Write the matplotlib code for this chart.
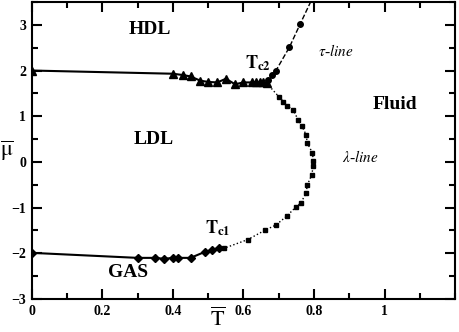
import matplotlib.pyplot as plt
from matplotlib.ticker import MultipleLocator

plt.rcParams['font.family'] = 'Liberation Serif'
plt.rcParams['mathtext.fontset'] = 'stix'

# HDL-LDL coexistence (triangles)
t_hdl = [0, 0.40, 0.43, 0.45, 0.477, 0.50, 0.526, 0.55, 0.576, 0.60, 0.623, 0.635, 0.647, 0.656, 0.666]
mu_hdl = [2.0, 1.93, 1.90, 1.87, 1.78, 1.75, 1.74, 1.82, 1.70, 1.74, 1.74, 1.75, 1.74, 1.74, 1.72]

# gas-LDL coexistence (diamonds)
t_gas = [0, 0.30, 0.35, 0.375, 0.40, 0.415, 0.45, 0.49, 0.51, 0.531]
mu_gas = [-1.99, -2.10, -2.10, -2.12, -2.10, -2.10, -2.10, -1.97, -1.93, -1.88]

# lambda line (squares)
t_lam = [0.545, 0.612, 0.662, 0.692, 0.722, 0.748, 0.762, 0.777, 0.781, 0.793,
         0.798, 0.798, 0.795, 0.781, 0.777, 0.765, 0.755, 0.741, 0.724, 0.713, 0.701]
mu_lam = [-1.89, -1.70, -1.49, -1.38, -1.19, -0.99, -0.90, -0.69, -0.50, -0.29,
          -0.08, 0.03, 0.20, 0.41, 0.60, 0.79, 0.92, 1.13, 1.23, 1.32, 1.42]

# tau line (circles)
t_tau = [0.67, 0.68, 0.692, 0.73, 0.76]
mu_tau = [1.80, 1.91, 2.00, 2.51, 3.01]
t_tau_line = [0.666, 0.67, 0.68, 0.692, 0.73, 0.76, 0.79]
mu_tau_line = [1.72, 1.80, 1.91, 2.00, 2.51, 3.01, 3.5]

fig = plt.figure(figsize=(4.59, 3.32), dpi=100)
ax = fig.add_axes([0.069, 0.0994, 0.923, 0.8946])

ax.plot(t_hdl, mu_hdl, '-', color='black', lw=1.5, marker='^', ms=6)
ax.plot(t_gas, mu_gas, '-', color='black', lw=1.5, marker='D', ms=4)
ax.plot([t_gas[-1]] + t_lam + [t_hdl[-1]], [mu_gas[-1]] + mu_lam + [mu_hdl[-1]],
        ':', color='black', lw=1)
ax.plot(t_lam, mu_lam, 's', color='black', ms=3.5)
ax.plot(t_tau_line, mu_tau_line, '--', color='black', lw=1)
ax.plot(t_tau, mu_tau, 'o', color='black', ms=4)

ax.set_xlim(0, 1.2)
ax.set_ylim(-3, 3.5)
ax.set_xticks([0, 0.2, 0.4, 0.6, 0.8, 1.0])
ax.set_xticklabels(['0', '0.2', '0.4', '0.6', '0.8', '1'])
ax.set_yticks([-3, -2, -1, 0, 1, 2, 3])
ax.xaxis.set_minor_locator(MultipleLocator(0.1))
ax.yaxis.set_minor_locator(MultipleLocator(0.5))
ax.tick_params(which='both', direction='in', top=True, right=True, width=1.5)
ax.tick_params(which='major', length=7, labelsize=10, pad=4)
ax.tick_params(which='minor', length=4)
for lab in ax.get_xticklabels() + ax.get_yticklabels():
    lab.set_fontweight('bold')
for s in ax.spines.values():
    s.set_linewidth(1.5)

ax.set_xlabel(r'$\overline{\mathrm{T}}$', fontsize=16, labelpad=0, va='center')
ax.xaxis.set_label_coords(0.44, -0.068)
ax.set_ylabel(r'$\overline{\mathrm{\mu}}$', fontsize=16, rotation=0, labelpad=0,
              va='center', ha='center')
ax.yaxis.set_label_coords(-0.058, 0.5)

bold = dict(fontsize=14, fontweight='bold', ha='center', va='center')
ax.text(0.335, 2.89, 'HDL', **bold)
ax.text(0.345, 0.49, 'LDL', **bold)
ax.text(0.272, -2.42, 'GAS', **bold)
ax.text(1.03, 1.25, 'Fluid', **bold)
ax.text(0.64, 2.17, r'$\mathbf{T_{c2}}$', fontsize=13, ha='center', va='center')
ax.text(0.527, -1.44, r'$\mathbf{T_{c1}}$', fontsize=13, ha='center', va='center')
ax.text(0.812, 2.43, r'$\tau$-$line$', fontsize=11, ha='left', va='center')
ax.text(0.88, 0.11, r'$\lambda$-$line$', fontsize=11, ha='left', va='center')

fig.savefig('out.png', dpi=100)
